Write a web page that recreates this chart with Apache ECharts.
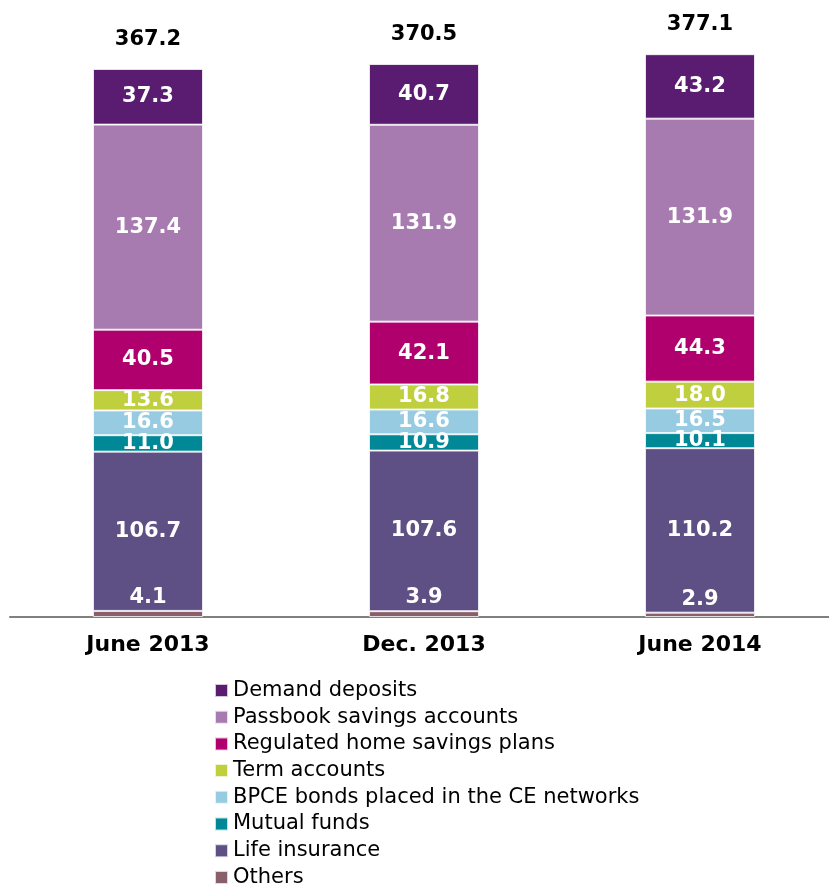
<!DOCTYPE html>
<html>
<head>
<meta charset="utf-8">
<script src="https://cdn.jsdelivr.net/npm/echarts@6/dist/echarts.min.js"></script>
<style>
  html, body { margin: 0; padding: 0; background: #fff; }
  #chart { width: 829px; height: 884px; }
</style>
</head>
<body>
<div id="chart"></div>
<script>
// Savings by product, € billions
const categories = ['June 2013', 'Dec. 2013', 'June 2014'];

const others          = [4.1, 3.9, 2.9];
const lifeInsurance   = [106.7, 107.6, 110.2];
const mutualFunds     = [11.0, 10.9, 10.1];
const bpceBonds       = [16.6, 16.6, 16.5];
const termAccounts    = [13.6, 16.8, 18.0];
const homeSavings     = [40.5, 42.1, 44.3];
const passbook        = [137.4, 131.9, 131.9];
const demandDeposits  = [37.3, 40.7, 43.2];

// Stack order, bottom to top
const stackSeries = [
  { name: 'Others', data: others, color: '#8A5F6A', labelPos: 'top' },
  { name: 'Life insurance', data: lifeInsurance, color: '#5E5084' },
  { name: 'Mutual funds', data: mutualFunds, color: '#008896' },
  { name: 'BPCE bonds placed in the CE networks', data: bpceBonds, color: '#96CBE2' },
  { name: 'Term accounts', data: termAccounts, color: '#BFCF3E' },
  { name: 'Regulated home savings plans', data: homeSavings, color: '#B0006E' },
  { name: 'Passbook savings accounts', data: passbook, color: '#A77BAF' },
  { name: 'Demand deposits', data: demandDeposits, color: '#5A1C70' }
];

const totals = categories.map((_, i) =>
  Math.round(stackSeries.reduce((s, ser) => s + ser.data[i], 0) * 10) / 10);

const FONT = '"DejaVu Sans", Verdana, sans-serif';

const series = stackSeries.map(s => ({
  name: s.name,
  type: 'bar',
  stack: 'total',
  barWidth: 110,
  data: s.data,
  itemStyle: { color: s.color, borderColor: 'rgba(255,255,255,0.75)', borderWidth: 1 },
  label: {
    show: true,
    position: s.labelPos || 'inside',
    distance: 3,
    color: '#fff',
    fontFamily: FONT,
    fontWeight: 'bold',
    fontSize: 21,
    formatter: p => p.value.toFixed(1)
  }
}));

// Totals written above each column: a zero-height bar on top of the stack
series.push({
  name: 'Total',
  type: 'bar',
  stack: 'total',
  barWidth: 110,
  data: totals.map(() => 0),
  silent: true,
  itemStyle: { color: 'transparent' },
  label: {
    show: true,
    position: 'top',
    distance: 19,
    color: '#000',
    fontFamily: FONT,
    fontWeight: 'bold',
    fontSize: 21,
    formatter: p => totals[p.dataIndex].toFixed(1)
  }
});

const chart = echarts.init(document.getElementById('chart'));
chart.setOption({
  animation: false,
  backgroundColor: '#fff',
  grid: { left: 10, top: 20, width: 828, height: 597, outerBoundsMode: 'none' },
  xAxis: {
    type: 'category',
    data: categories,
    axisLine: { lineStyle: { color: '#808080', width: 2 } },
    axisTick: { show: false },
    axisLabel: {
      margin: 17,
      color: '#000',
      fontFamily: FONT,
      fontWeight: 'bold',
      fontSize: 22
    }
  },
  yAxis: {
    type: 'value',
    min: 0,
    max: 400,
    show: false,
    splitLine: { show: false }
  },
  legend: {
    orient: 'vertical',
    left: 214,
    top: 680,
    height: 240,
    padding: 0,
    icon: 'rect',
    itemWidth: 13,
    itemHeight: 13,
    itemGap: 5.7,
    data: stackSeries.slice().reverse().map(s => s.name),
    textStyle: {
      color: '#000',
      fontFamily: FONT,
      fontSize: 21
    }
  },
  series: series
});
</script>
</body>
</html>
